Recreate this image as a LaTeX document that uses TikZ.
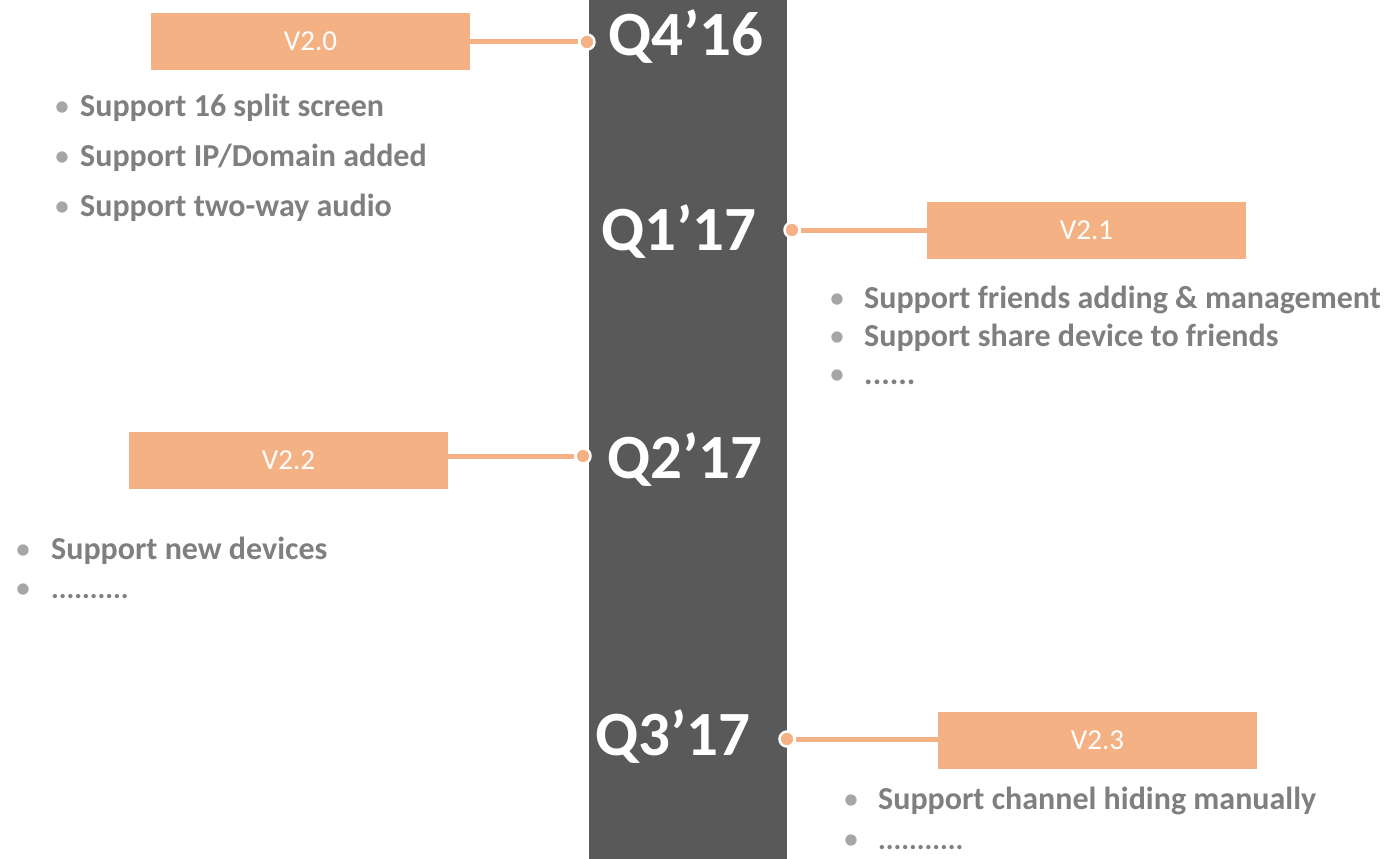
\documentclass[tikz,border=0pt]{standalone}
\usepackage{fontspec}
\setmainfont{Carlito}
\usepackage{tikz}
\usetikzlibrary{positioning}

\definecolor{peach}{HTML}{F4B183}
\definecolor{bargray}{HTML}{595959}
\definecolor{txtgray}{HTML}{7F7F7F}
\definecolor{dotgray}{HTML}{A6A6A6}

\tikzset{
  version/.style={fill=peach, minimum width=319pt, minimum height=57pt, inner sep=0pt,
                  text=white, font=\fontsize{29}{34}\selectfont},
  quarter/.style={text=white, font=\fontsize{63}{70}\selectfont\bfseries, inner sep=0pt},
  pin/.style={circle, fill=peach, draw=white, line width=2.5pt, minimum size=15pt, inner sep=0pt},
  link/.style={draw=peach, line width=5pt},
  feature/.style={anchor=west, align=left, inner sep=0pt, text=txtgray}
}
\newcommand{\bul}[1]{\makebox[#1][l]{\color{dotgray}\mdseries\textbullet}}

\begin{document}
\begin{tikzpicture}[x=1pt, y=-1pt]
  \useasboundingbox (0,0) rectangle (1393,859);

  % timeline bar
  \fill[bargray] (589,0) rectangle (787,859);

  \node[quarter] (q4) at (686,37)  {Q4’16};
  \node[quarter] (q1) at (679,232) {Q1’17};
  \node[quarter] (q2) at (685,460) {Q2’17};
  \node[quarter] (q3) at (673,737) {Q3’17};

  % version boxes
  \node[version] (v20) at (310.5,41.5)  {V2.0};
  \node[version] (v21) at (1086.5,230.5) {V2.1};
  \node[version] (v22) at (288.5,460.5)  {V2.2};
  \node[version] (v23) at (1097.5,740.5) {V2.3};

  % pins on the bar
  \node[pin] (p20) at (587,42)  {};
  \node[pin] (p21) at (792,230) {};
  \node[pin] (p22) at (583,456) {};
  \node[pin] (p23) at (787,739) {};

  \draw[link] (p20 -| v20.east) -- (p20);
  \draw[link] (p21 -| v21.west) -- (p21);
  \draw[link] (p22 -| v22.east) -- (p22);
  \draw[link] (p23 -| v23.west) -- (p23);

  % feature lists
  \node[feature, font=\fontsize{32}{50}\selectfont\bfseries] (f20) at (54,158)
    {\bul{26pt}Support 16 split screen\\
     \bul{26pt}Support IP/Domain added\\
     \bul{26pt}Support two-way audio};
  \node[feature, font=\fontsize{32}{38}\selectfont\bfseries] (f21) at (829,335)
    {\bul{35pt}Support friends adding \& management\\
     \bul{35pt}Support share device to friends\\
     \bul{35pt}......};
  \node[feature, font=\fontsize{32}{39}\selectfont\bfseries] (f22) at (15,568)
    {\bul{36pt}Support new devices\\
     \bul{36pt}{\fontsize{29}{39}\selectfont..........}};
  \node[feature, font=\fontsize{32}{40}\selectfont\bfseries] (f23) at (843,818)
    {\bul{35pt}Support channel hiding manually\\
     \bul{35pt}{\fontsize{29}{40}\selectfont...........}};
\end{tikzpicture}
\end{document}
